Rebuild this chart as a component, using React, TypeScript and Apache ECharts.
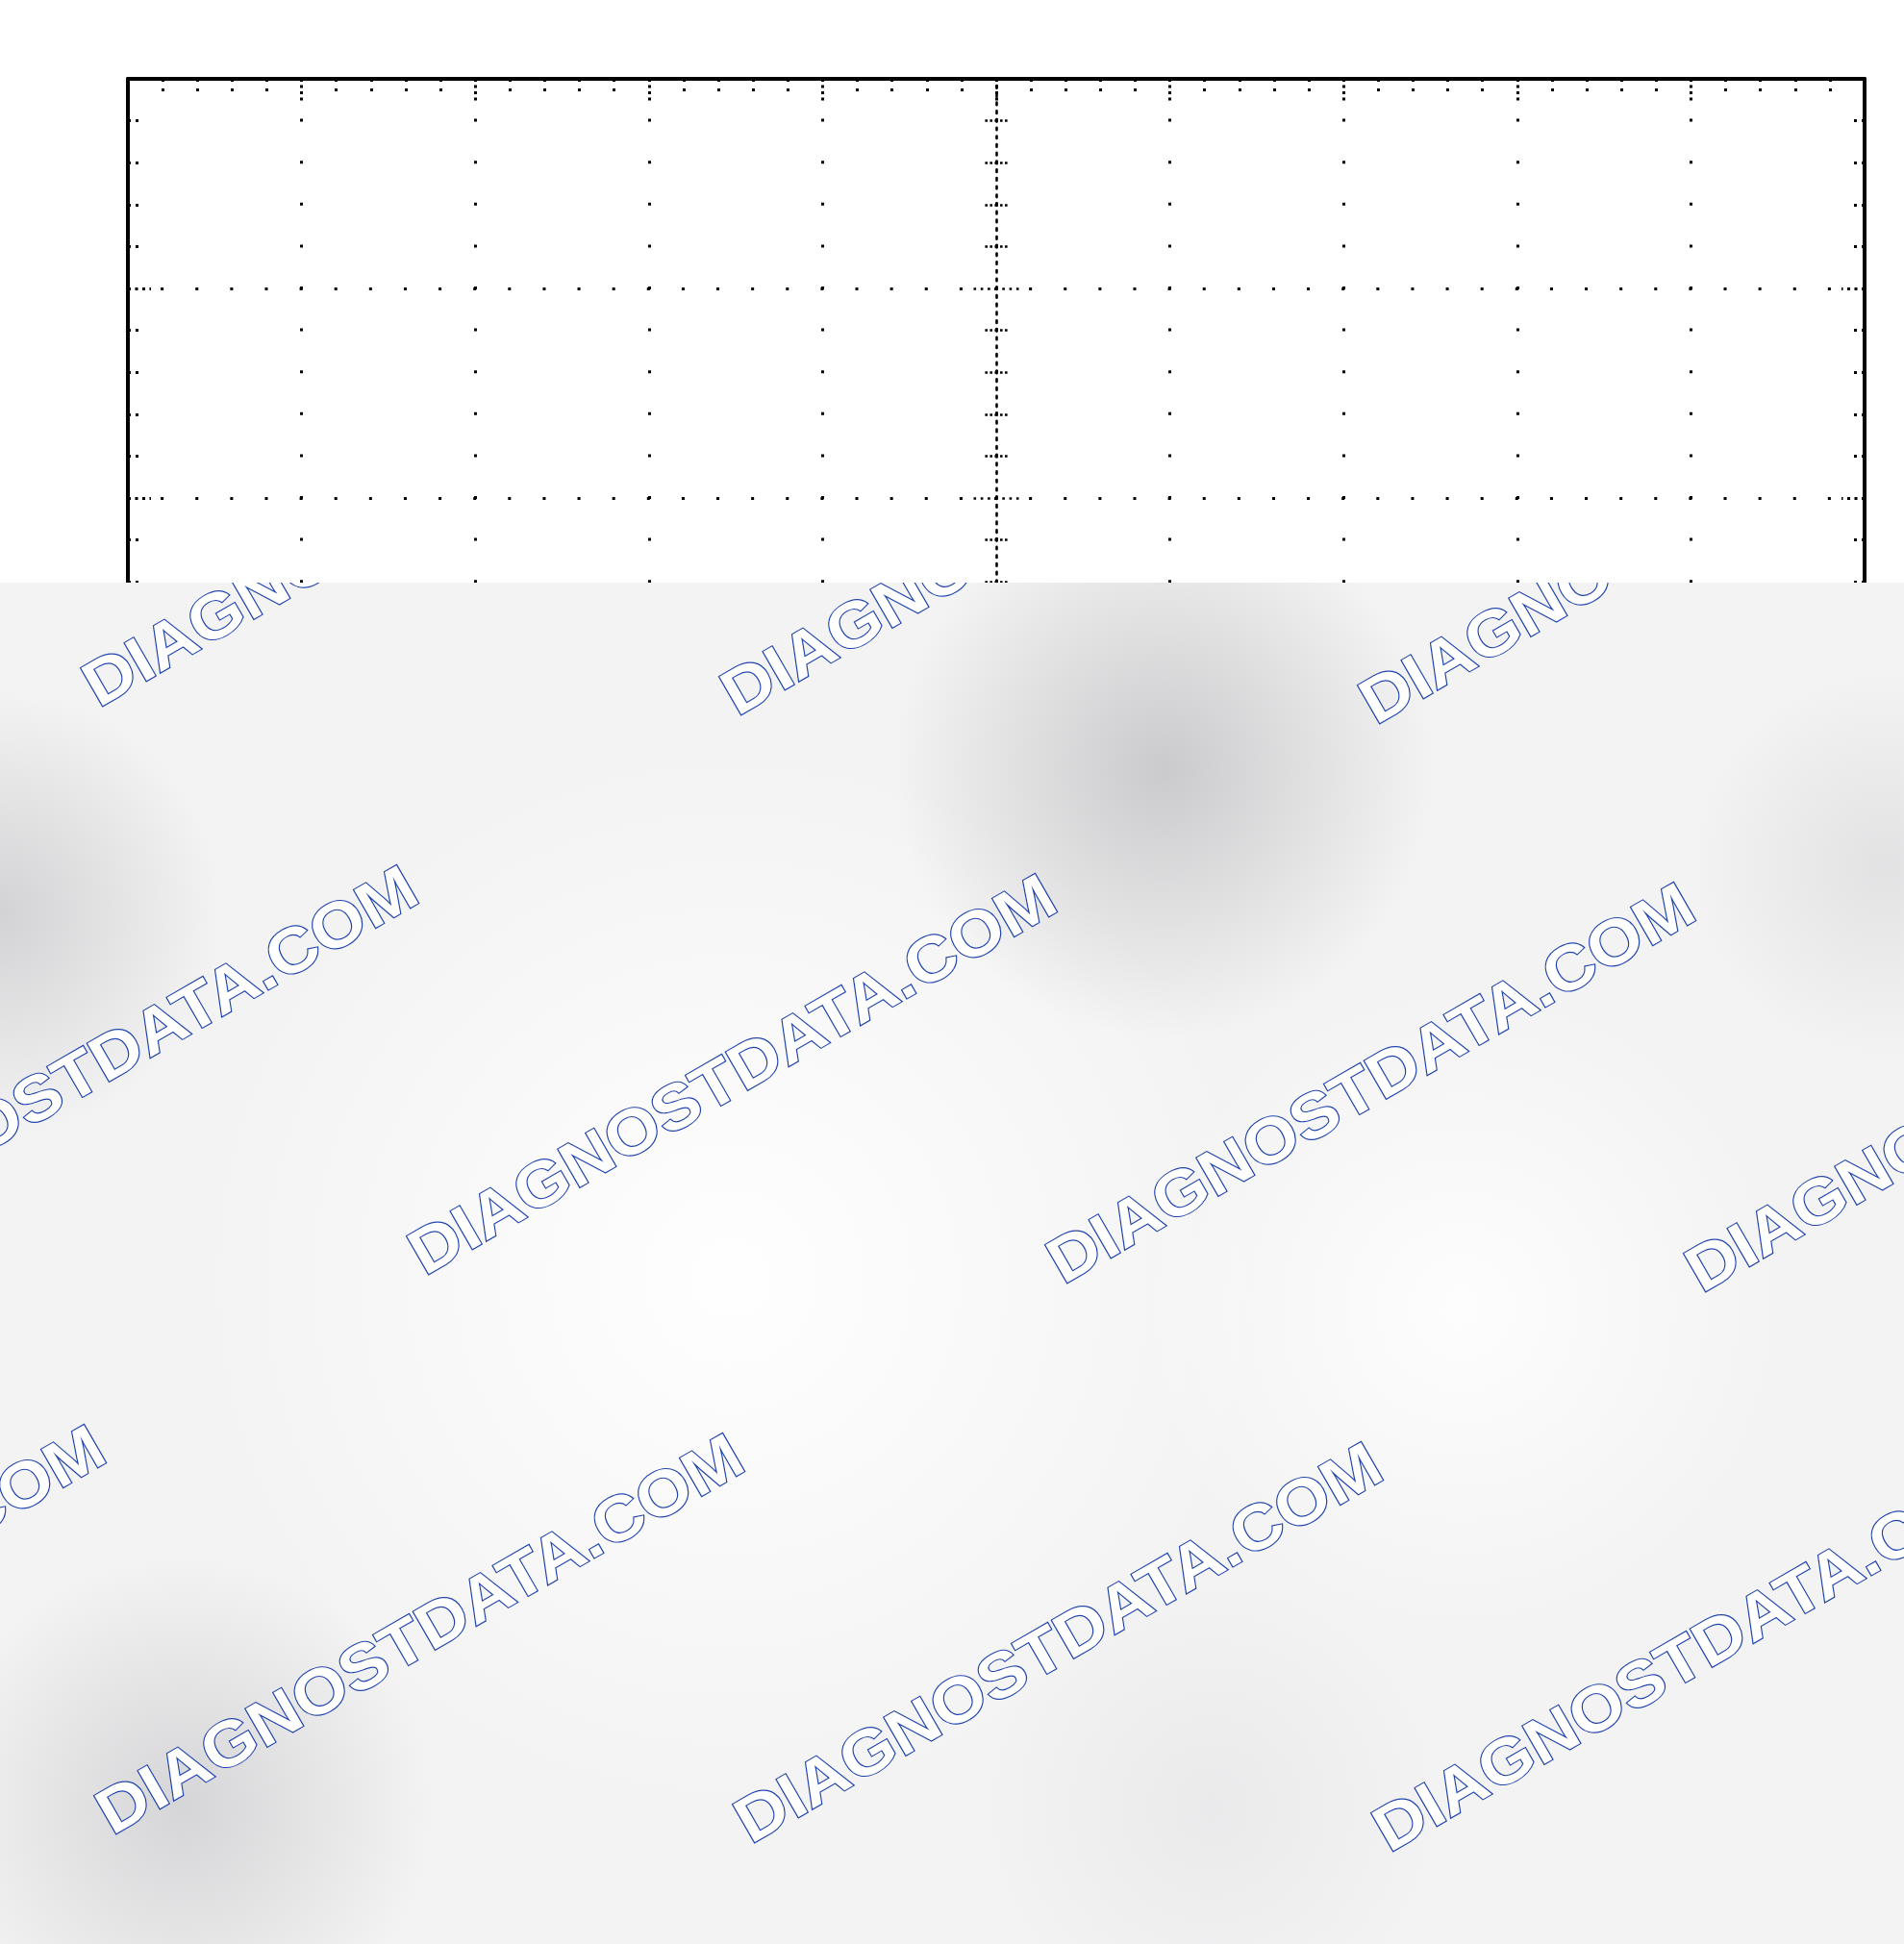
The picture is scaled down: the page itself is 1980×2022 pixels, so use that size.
import React, { useEffect, useRef } from "react";
import * as echarts from "echarts";

// Graticule: 10 x 8 major divisions, 5 minor per major
const X_MIN = -5;
const X_MAX = 5;
const Y_MIN = -4;
const Y_MAX = 4;
const MAJOR_STEP = 1;
const MINOR_SPLIT = 5;

// Watermark tiling
const WATERMARK_TEXT = "DIAGNOSTDATA.COM";
const WATERMARK_ROWS = [-1, 0, 1, 2, 3];
const WATERMARK_COLS = [-2, -1, 0, 1, 2, 3];

// layout (pixels)
const PAGE_W = 1980;
const PAGE_H = 2022;
const COVER_TOP = 606;
const GRID_LEFT = 133;
const GRID_TOP = 82;
const GRID_W = 1806;
const GRID_H = 1744;

const INK = "#000";

export default function App() {
  const topRef = useRef<HTMLDivElement>(null);
  const botRef = useRef<HTMLDivElement>(null);

  useEffect(() => {
    document.body.style.margin = "0";
    const top = echarts.init(topRef.current!, null, { renderer: "svg" });
    const bot = echarts.init(botRef.current!, null, { renderer: "svg" });

    const nx = (X_MAX - X_MIN) / MAJOR_STEP;
    const ny = (Y_MAX - Y_MIN) / MAJOR_STEP;
    const minorX = GRID_W / nx / MINOR_SPLIT;
    const minorY = GRID_H / ny / MINOR_SPLIT;
    const fineY = minorY / 5;

    const hidden = { show: false };
    const borderLine = { lineStyle: { color: INK, width: 4 } };

    const yBorder = (position: "left" | "right", withSplit: boolean) => ({
      type: "value",
      position,
      min: Y_MIN,
      max: Y_MAX,
      interval: MAJOR_STEP,
      axisLine: { show: true, onZero: false, ...borderLine },
      axisTick: { show: true, inside: true, length: 24, lineStyle: { color: INK, width: 3, type: [3, 4.5] } },
      minorTick: { show: true, splitNumber: MINOR_SPLIT, length: 13, lineStyle: { color: INK, width: 3, type: [3, 5] } },
      splitLine: withSplit
        ? { show: true, lineStyle: { color: INK, width: 3, type: [3, minorX - 3], dashOffset: 1.5 } }
        : hidden,
      axisLabel: hidden,
      z: 5,
    });

    const yCenter = (inside: boolean, showLine: boolean) => ({
      type: "value",
      position: "left",
      min: Y_MIN,
      max: Y_MAX,
      interval: MAJOR_STEP,
      axisLine: {
        show: showLine,
        onZero: true,
        onZeroAxisIndex: 0,
        lineStyle: { color: INK, width: 2.6, type: [2.6, fineY - 2.6], dashOffset: 1.3 },
      },
      axisTick: {
        show: true,
        inside,
        length: 24,
        lineStyle: { color: INK, width: 2.6, type: [2.6, 4.7], dashOffset: 1.3 },
      },
      minorTick: {
        show: true,
        splitNumber: MINOR_SPLIT,
        length: 12,
        lineStyle: { color: INK, width: 2.6, type: [2.6, 2.4], dashOffset: 1.3 },
      },
      splitLine: hidden,
      axisLabel: hidden,
      z: 4,
    });

    top.setOption({
      animation: false,
      backgroundColor: "#ffffff",
      grid: {
        left: GRID_LEFT,
        top: GRID_TOP,
        width: GRID_W,
        height: GRID_H,
        containLabel: false,
        outerBoundsMode: "none",
      },
      xAxis: [
        {
          type: "value",
          position: "top",
          min: X_MIN,
          max: X_MAX,
          interval: MAJOR_STEP,
          axisLine: { show: true, onZero: false, ...borderLine },
          axisTick: { show: true, inside: true, length: 26, lineStyle: { color: INK, width: 3, type: [3, 3.5] } },
          minorTick: { show: true, splitNumber: MINOR_SPLIT, length: 14, lineStyle: { color: INK, width: 3, type: [3, 7] } },
          splitLine: { show: true, lineStyle: { color: INK, width: 3, type: [3, minorY - 3], dashOffset: 1.5 } },
          axisLabel: hidden,
          z: 5,
        },
      ],
      yAxis: [yBorder("left", true), yBorder("right", false), yCenter(true, true), yCenter(false, false)],
      series: [],
    });

    // Watermark layer
    const origin = [422, 526];
    const colStep = [664, 9];
    const rowStep = [339, 591];
    const graphics: any[] = [];

    const blobs: [number, number, number, string][] = [
      [760, 1330, 560, "rgba(255,255,255,0.95)"],
      [1520, 1360, 340, "rgba(255,255,255,0.85)"],
      [1210, 800, 280, "rgba(198,198,200,0.9)"],
      [1960, 900, 200, "rgba(215,215,217,0.6)"],
      [0, 950, 230, "rgba(205,205,207,0.85)"],
      [190, 1880, 260, "rgba(208,208,210,0.85)"],
      [1260, 1880, 240, "rgba(228,228,230,0.6)"],
    ];
    blobs.forEach(([x, y, r, c]) => {
      graphics.push({
        type: "circle",
        shape: { cx: x, cy: y - COVER_TOP, r },
        style: {
          fill: new echarts.graphic.RadialGradient(0.5, 0.5, 0.5, [
            { offset: 0, color: c },
            { offset: 1, color: c.replace(/[\d.]+\)$/, "0)") },
          ]),
        },
        silent: true,
        z: 1,
      });
    });

    WATERMARK_ROWS.forEach((j) => {
      WATERMARK_COLS.forEach((i) => {
        const cx = origin[0] + i * colStep[0] + j * rowStep[0];
        const cy = origin[1] + i * colStep[1] + j * rowStep[1] - COVER_TOP;
        graphics.push({
          type: "text",
          x: cx,
          y: cy,
          rotation: Math.PI / 6,
          scaleX: 1.1,
          z: 10,
          silent: true,
          style: {
            text: WATERMARK_TEXT,
            fontFamily: "'Liberation Sans', Arial, sans-serif",
            fontWeight: "bold",
            fontSize: 66,
            fill: "#ffffff",
            stroke: "#1f43ad",
            lineWidth: 2.2,
            textAlign: "center",
            textVerticalAlign: "middle",
            align: "center",
            verticalAlign: "middle",
          },
        });
      });
    });

    bot.setOption({
      animation: false,
      backgroundColor: "#f3f3f4",
      graphic: { elements: graphics },
    });

    return () => {
      top.dispose();
      bot.dispose();
    };
  }, []);

  return (
    <div style={{ position: "relative", width: PAGE_W, height: PAGE_H, overflow: "hidden", background: "#fff" }}>
      <div ref={topRef} style={{ position: "absolute", left: 0, top: 0, width: PAGE_W, height: PAGE_H }} />
      <div ref={botRef} style={{ position: "absolute", left: 0, top: COVER_TOP, width: PAGE_W, height: PAGE_H - COVER_TOP }} />
    </div>
  );
}
